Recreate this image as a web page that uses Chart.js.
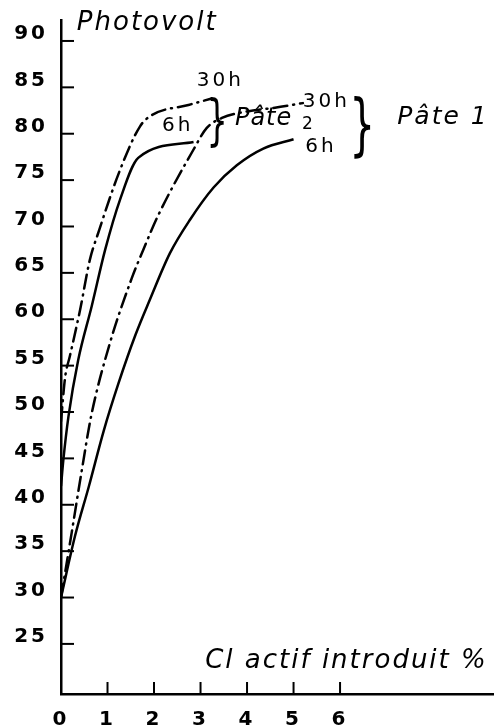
<!DOCTYPE html>
<html>
<head>
<meta charset="utf-8">
<script src="https://cdn.jsdelivr.net/npm/chart.js@4"></script>
<style>
  html, body { margin: 0; padding: 0; background: #fff; }
  canvas { display: block; }
</style>
</head>
<body>
<canvas id="chart" width="494" height="726"></canvas>
<script>
// ---------- DATA ----------

const xTicks = [0, 1, 2, 3, 4, 5, 6];
const yTicks = [25, 30, 35, 40, 45, 50, 55, 60, 65, 70, 75, 80, 85, 90];

// Pâte 1, 6 h (solid, lower right)
const pate1h6X = [0, 0.3, 0.6, 0.92, 1.23, 1.6, 1.91, 2.34, 2.77, 3.28, 3.78, 4.35, 5.0];
const pate1h6Y = [30, 36.6, 42, 48, 53, 58.3, 62.1, 67.1, 70.7, 74.2, 76.6, 78.4, 79.4];

// Pâte 1, 30 h (dash-dot)
const pate1h30X = [0, 0.23, 0.45, 0.65, 1.05, 1.52, 1.77, 2.09, 2.85, 3.13, 3.46, 4.0, 4.6, 5.2];
const pate1h30Y = [30, 37, 43.8, 49.6, 57.4, 64.4, 67.5, 71.2, 78.3, 80.6, 81.7, 82.4, 82.8, 83.3];

// Pâte 2, 6 h (solid, left)
const pate2h6X = [0, 0.05, 0.16, 0.37, 0.66, 0.95, 1.27, 1.66, 2.85];
const pate2h6Y = [42, 44.8, 49.5, 55.6, 61.4, 67.5, 72.9, 77.4, 79.1];

// Pâte 2, 30 h (dash-dot, leftmost)
const pate2h30X = [0, 0.09, 0.19, 0.41, 0.62, 0.8, 1.27, 1.7, 1.95, 2.74, 3.24];
const pate2h30Y = [49, 53.8, 56, 61, 66.4, 69.3, 76.1, 80.8, 82.0, 83.1, 83.8];

// ---------- TEXT NOTES (placed in data units) ----------

const notes = [
  { text: "Photovolt", x: 0.34, y: 91.9, size: 26, italic: true, spacing: 2 },
  { text: "30h", x: 2.92, y: 85.7, size: 20, spacing: 3 },
  { text: "6h", x: 2.17, y: 80.9, size: 20, spacing: 3 },
  { text: "}", x: 3.13, y: 81.0, size: 56, brace: true },
  { text: "Pâte", x: 3.74, y: 81.6, size: 24, italic: true, spacing: 1 },
  { text: "2", x: 5.18, y: 81.0, size: 17 },
  { text: "30h", x: 5.2, y: 83.4, size: 20, spacing: 3 },
  { text: "6h", x: 5.25, y: 78.6, size: 20, spacing: 3 },
  { text: "}", x: 6.2, y: 80.4, size: 68, brace: true },
  { text: "Pâte 1", x: 7.23, y: 81.7, size: 25, italic: true, spacing: 2 },
  { text: "Cl actif introduit %", x: 3.1, y: 23.1, size: 26, italic: true, spacing: 2 }
];

// ---------- HELPERS ----------

function pts(xs, ys) {
  return xs.map((x, i) => ({ x: x, y: ys[i] }));
}

function series(xs, ys, dashed) {
  return {
    data: pts(xs, ys),
    borderColor: "#000",
    borderWidth: 2.5,
    borderDash: dashed ? [14, 6, 1, 6] : [],
    borderCapStyle: dashed ? "round" : "butt",
    pointRadius: 0,
    cubicInterpolationMode: "monotone",
    fill: false
  };
}

function noPadding(s) {
  s.paddingTop = 0;
  s.paddingBottom = 0;
  s.paddingLeft = 0;
  s.paddingRight = 0;
}

// wider letter spacing for the axis numbers, like the hand lettering
const spacedLabels = {
  id: "spacedLabels",
  beforeDraw(chart) { chart.ctx.letterSpacing = "3px"; },
  afterDatasetsDraw(chart) { chart.ctx.letterSpacing = "0px"; }
};

// tick marks pointing into the plot, like the drawing
const innerTicks = {
  id: "innerTicks",
  afterDraw(chart) {
    const { ctx, chartArea, scales } = chart;
    ctx.save();
    ctx.strokeStyle = "#000";
    ctx.lineWidth = 2;
    yTicks.forEach(v => {
      const py = scales.y.getPixelForValue(v);
      ctx.beginPath();
      ctx.moveTo(chartArea.left, py);
      ctx.lineTo(chartArea.left + 13, py);
      ctx.stroke();
    });
    xTicks.forEach(v => {
      const px = scales.x.getPixelForValue(v);
      ctx.beginPath();
      ctx.moveTo(px, chartArea.bottom);
      ctx.lineTo(px, chartArea.bottom - 12);
      ctx.stroke();
    });
    ctx.restore();
  }
};

const textNotes = {
  id: "textNotes",
  afterDraw(chart) {
    const { ctx, scales } = chart;
    ctx.save();
    ctx.fillStyle = "#000";
    ctx.textAlign = "left";
    ctx.textBaseline = "middle";
    notes.forEach(n => {
      const px = scales.x.getPixelForValue(n.x);
      const py = scales.y.getPixelForValue(n.y);
      ctx.font = (n.italic ? "italic " : "") + n.size + 'px "DejaVu Sans"';
      ctx.letterSpacing = (n.spacing || 0) + "px";
      if (n.brace) {
        // tall thin brace
        ctx.save();
        ctx.translate(px, py);
        ctx.scale(0.6, 1);
        ctx.fillText(n.text, 0, 0);
        ctx.restore();
      } else {
        ctx.fillText(n.text, px, py);
      }
    });
    ctx.restore();
  }
};

const tickFont = { family: "DejaVu Sans", size: 20, weight: "bold" };

// ---------- CHART ----------

new Chart(document.getElementById("chart"), {
  type: "line",
  data: {
    datasets: [
      series(pate1h6X, pate1h6Y, false),
      series(pate1h30X, pate1h30Y, true),
      series(pate2h6X, pate2h6Y, false),
      series(pate2h30X, pate2h30Y, true)
    ]
  },
  options: {
    responsive: false,
    devicePixelRatio: 1,
    animation: false,
    layout: { padding: { top: 20, right: 0, bottom: 0, left: 0 } },
    plugins: {
      legend: { display: false },
      tooltip: { enabled: false }
    },
    scales: {
      x: {
        type: "linear",
        min: 0,
        max: 9.31,
        grid: { display: false, drawTicks: false },
        border: { display: true, color: "#000", width: 2.5 },
        ticks: { color: "#000", font: tickFont, padding: 14, maxRotation: 0 },
        afterBuildTicks: s => { s.ticks = xTicks.map(v => ({ value: v })); },
        afterFit: s => { s.height = 32; noPadding(s); }
      },
      y: {
        type: "linear",
        min: 19.6,
        max: 92.26,
        grid: { display: false, drawTicks: false },
        border: { display: true, color: "#000", width: 2.5 },
        ticks: { color: "#000", font: tickFont, padding: 13, labelOffset: -7 },
        afterBuildTicks: s => { s.ticks = yTicks.map(v => ({ value: v })); },
        afterFit: s => { s.width = 61; noPadding(s); }
      }
    }
  },
  plugins: [spacedLabels, innerTicks, textNotes]
});
</script>
</body>
</html>
